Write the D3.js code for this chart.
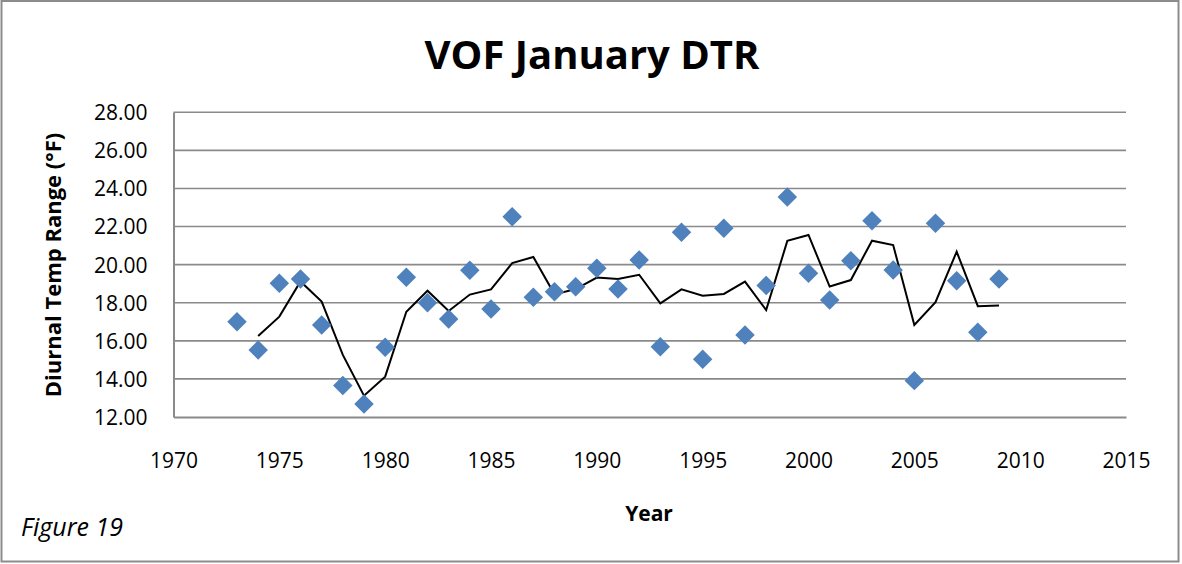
<!DOCTYPE html>
<html>
<head>
<meta charset="utf-8">
<script src="https://cdn.jsdelivr.net/npm/d3@7"></script>
<style>
  body { margin: 0; background: #fff; }
  svg text { font-family: "Open Sans", "DejaVu Sans", sans-serif; fill: #000; }
</style>
</head>
<body>
<div id="chart"></div>
<script>
// January diurnal temperature range at VOF, one value per year
var years = [1973, 1974, 1975, 1976, 1977, 1978, 1979, 1980, 1981, 1982,
  1983, 1984, 1985, 1986, 1987, 1988, 1989, 1990, 1991, 1992,
  1993, 1994, 1995, 1996, 1997, 1998, 1999, 2000, 2001, 2002,
  2003, 2004, 2005, 2006, 2007, 2008, 2009];
var dtr = [17.0, 15.52, 19.02, 19.25, 16.83, 13.65, 12.68, 15.66, 19.34, 18.0,
  17.15, 19.70, 17.67, 22.52, 18.29, 18.58, 18.84, 19.81, 18.72, 20.25,
  15.69, 21.70, 15.03, 21.91, 16.31, 18.91, 23.55, 19.55, 18.15, 20.21,
  22.31, 19.72, 13.91, 22.17, 19.16, 16.45, 19.25];
// 2 year moving average trendline (starts 1974)
var trendYears = years.slice(1);
var trend = [16.25, 17.27, 19.12, 18.06, 15.26, 13.12, 14.12, 17.53, 18.63,
  17.57, 18.43, 18.70, 20.08, 20.40, 18.44, 18.72, 19.32, 19.25, 19.47,
  17.97, 18.70, 18.37, 18.46, 19.11, 17.62, 21.25, 21.56, 18.85, 19.19,
  21.26, 21.03, 16.83, 18.03, 20.68, 17.82, 17.85];
var xTicks = [1970, 1975, 1980, 1985, 1990, 1995, 2000, 2005, 2010, 2015];
var yTicks = [12, 14, 16, 18, 20, 22, 24, 26, 28];

var W = 1182, H = 564;
var margin = {top: 112.3, right: 56, bottom: 147, left: 173.5};

var svg = d3.select("#chart").append("svg")
  .attr("width", W).attr("height", H);

// outer frame
svg.append("rect")
  .attr("x", 1.5).attr("y", 1).attr("width", W - 5).attr("height", H - 3.5)
  .attr("fill", "#fff").attr("stroke", "#8c8c8c").attr("stroke-width", 2);

var x = d3.scaleLinear().domain([1970, 2015]).range([margin.left, W - margin.right]);
var y = d3.scaleLinear().domain([12, 28]).range([H - margin.bottom, margin.top]);

// gridlines
svg.append("g").selectAll("line").data(yTicks.slice(1)).enter().append("line")
  .attr("x1", x(1970)).attr("x2", x(2015))
  .attr("y1", function(d){ return y(d); }).attr("y2", function(d){ return y(d); })
  .attr("stroke", "#8a8a8a").attr("stroke-width", 1.6);

// y axis
var yAxis = svg.append("g")
  .attr("transform", "translate(" + x(1970) + ",0)")
  .call(d3.axisLeft(y).tickValues(yTicks).tickSize(0).tickPadding(26)
    .tickFormat(d3.format(".2f")));
yAxis.select(".domain").attr("stroke", "#8a8a8a").attr("stroke-width", 2);
yAxis.selectAll("text").style("font-size", "21px").attr("dy", "0.35em");

// x axis
var xAxis = svg.append("g")
  .attr("transform", "translate(0," + y(12) + ")")
  .call(d3.axisBottom(x).tickValues(xTicks).tickSize(0).tickPadding(36)
    .tickFormat(d3.format("d")));
xAxis.select(".domain").attr("stroke", "#8a8a8a").attr("stroke-width", 2);
xAxis.selectAll("text").style("font-size", "21px");

// trendline
var line = d3.line()
  .x(function(d, i){ return x(trendYears[i]); })
  .y(function(d){ return y(d); });
svg.append("path").datum(trend)
  .attr("d", line).attr("fill", "none")
  .attr("stroke", "#000").attr("stroke-width", 2);

// diamonds
var diamond = d3.symbol().type(d3.symbolSquare).size(190);
svg.append("g").selectAll("path").data(dtr).enter().append("path")
  .attr("d", diamond)
  .attr("transform", function(d, i){
    return "translate(" + x(years[i]) + "," + y(d) + ") rotate(45)";
  })
  .attr("fill", "#4f81bd");

// titles
svg.append("text")
  .attr("x", 592).attr("y", 69).attr("text-anchor", "middle")
  .style("font-size", "40px").style("font-weight", "bold")
  .text("VOF January DTR");

svg.append("text")
  .attr("transform", "translate(61,265) rotate(-90)")
  .attr("text-anchor", "middle")
  .style("font-size", "22px").style("font-weight", "bold")
  .text("Diurnal Temp Range (°F)");

svg.append("text")
  .attr("x", 649).attr("y", 521).attr("text-anchor", "middle")
  .style("font-size", "21px").style("font-weight", "bold")
  .text("Year");

svg.append("text")
  .attr("x", 21).attr("y", 536)
  .style("font-size", "25px").style("font-style", "italic")
  .text("Figure 19");
</script>
</body>
</html>
